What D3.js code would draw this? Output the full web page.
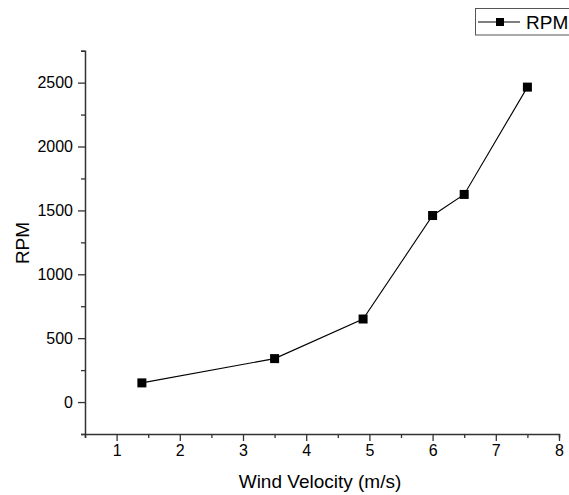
<!DOCTYPE html>
<html><head><meta charset="utf-8">
<script src="https://cdn.jsdelivr.net/npm/d3@7"></script>
<style>body{margin:0;background:#fff}svg{display:block}text{font-family:"Liberation Sans",Arial,sans-serif;fill:#000}</style>
</head><body>
<script>
const windVelocity = [1.4, 3.5, 4.9, 6.0, 6.5, 7.5];
const rpm = [150, 340, 650, 1460, 1625, 2465];
const xTicks = [1, 2, 3, 4, 5, 6, 7, 8];
const yTicks = [0, 500, 1000, 1500, 2000, 2500];
const seriesName = "RPM";

const W = 569, H = 495;
const svg = d3.select("body").append("svg").attr("width", W).attr("height", H);
const x = d3.scaleLinear().domain([0.5, 8]).range([85, 559]);
const y = d3.scaleLinear().domain([-250, 2750]).range([434, 50.7]);

const gx = svg.append("g").attr("transform", "translate(0,434)");
gx.call(d3.axisBottom(x).tickValues(d3.range(0.5, 8.01, 0.5).filter(v => v % 1 !== 0)).tickSize(4).tickFormat(""));
gx.append("g").call(d3.axisBottom(x).tickValues(xTicks).tickSize(7).tickPadding(4).tickFormat(d3.format("d")));
const gy = svg.append("g").attr("transform", "translate(85,0)");
gy.call(d3.axisLeft(y).tickValues(d3.range(-250, 2751, 250).filter(v => v % 500 !== 0)).tickSize(4).tickFormat(""));
gy.append("g").call(d3.axisLeft(y).tickValues(yTicks).tickSize(7).tickPadding(5).tickFormat(d3.format("d")));
svg.selectAll(".domain").attr("stroke", "#333").attr("stroke-width", 1.5);
svg.selectAll(".tick line").attr("stroke", "#333").attr("stroke-width", 1.3);
svg.selectAll(".tick text").attr("font-size", 16).attr("font-family", "Liberation Sans, Arial, sans-serif").attr("fill", "#000");
gx.selectAll("g .domain").filter(function(){return this.parentNode !== gx.node();}).remove();
gy.selectAll("g .domain").filter(function(){return this.parentNode !== gy.node();}).remove();

svg.append("text").attr("x", 320).attr("y", 488).attr("text-anchor", "middle").attr("font-size", 19).text("Wind Velocity (m/s)");
svg.append("text").attr("transform", "translate(29,243) rotate(-90)").attr("text-anchor", "middle").attr("font-size", 19).text("RPM");

const data = windVelocity.map((v, i) => ({x: v, y: rpm[i]}));
svg.append("path").datum(data).attr("fill", "none").attr("stroke", "#000").attr("stroke-width", 1.1)
  .attr("d", d3.line().x(d => x(d.x)).y(d => y(d.y)));
const ms = 9;
svg.selectAll("rect.pt").data(data).join("rect").attr("class", "pt")
  .attr("x", d => x(d.x) - ms/2).attr("y", d => y(d.y) - ms/2).attr("width", ms).attr("height", ms).attr("fill", "#000");

const lg = svg.append("g");
lg.append("rect").attr("x", 475.5).attr("y", 8.5).attr("width", 110).attr("height", 26.5).attr("fill", "#fff").attr("stroke", "#555").attr("stroke-width", 1);
lg.append("line").attr("x1", 478).attr("x2", 520).attr("y1", 22).attr("y2", 22).attr("stroke", "#000").attr("stroke-width", 1.1);
lg.append("rect").attr("x", 500 - 4).attr("y", 22 - 4).attr("width", 8).attr("height", 8).attr("fill", "#000");
lg.append("text").attr("x", 526).attr("y", 29).attr("font-size", 19).text(seriesName);
</script>
</body></html>
